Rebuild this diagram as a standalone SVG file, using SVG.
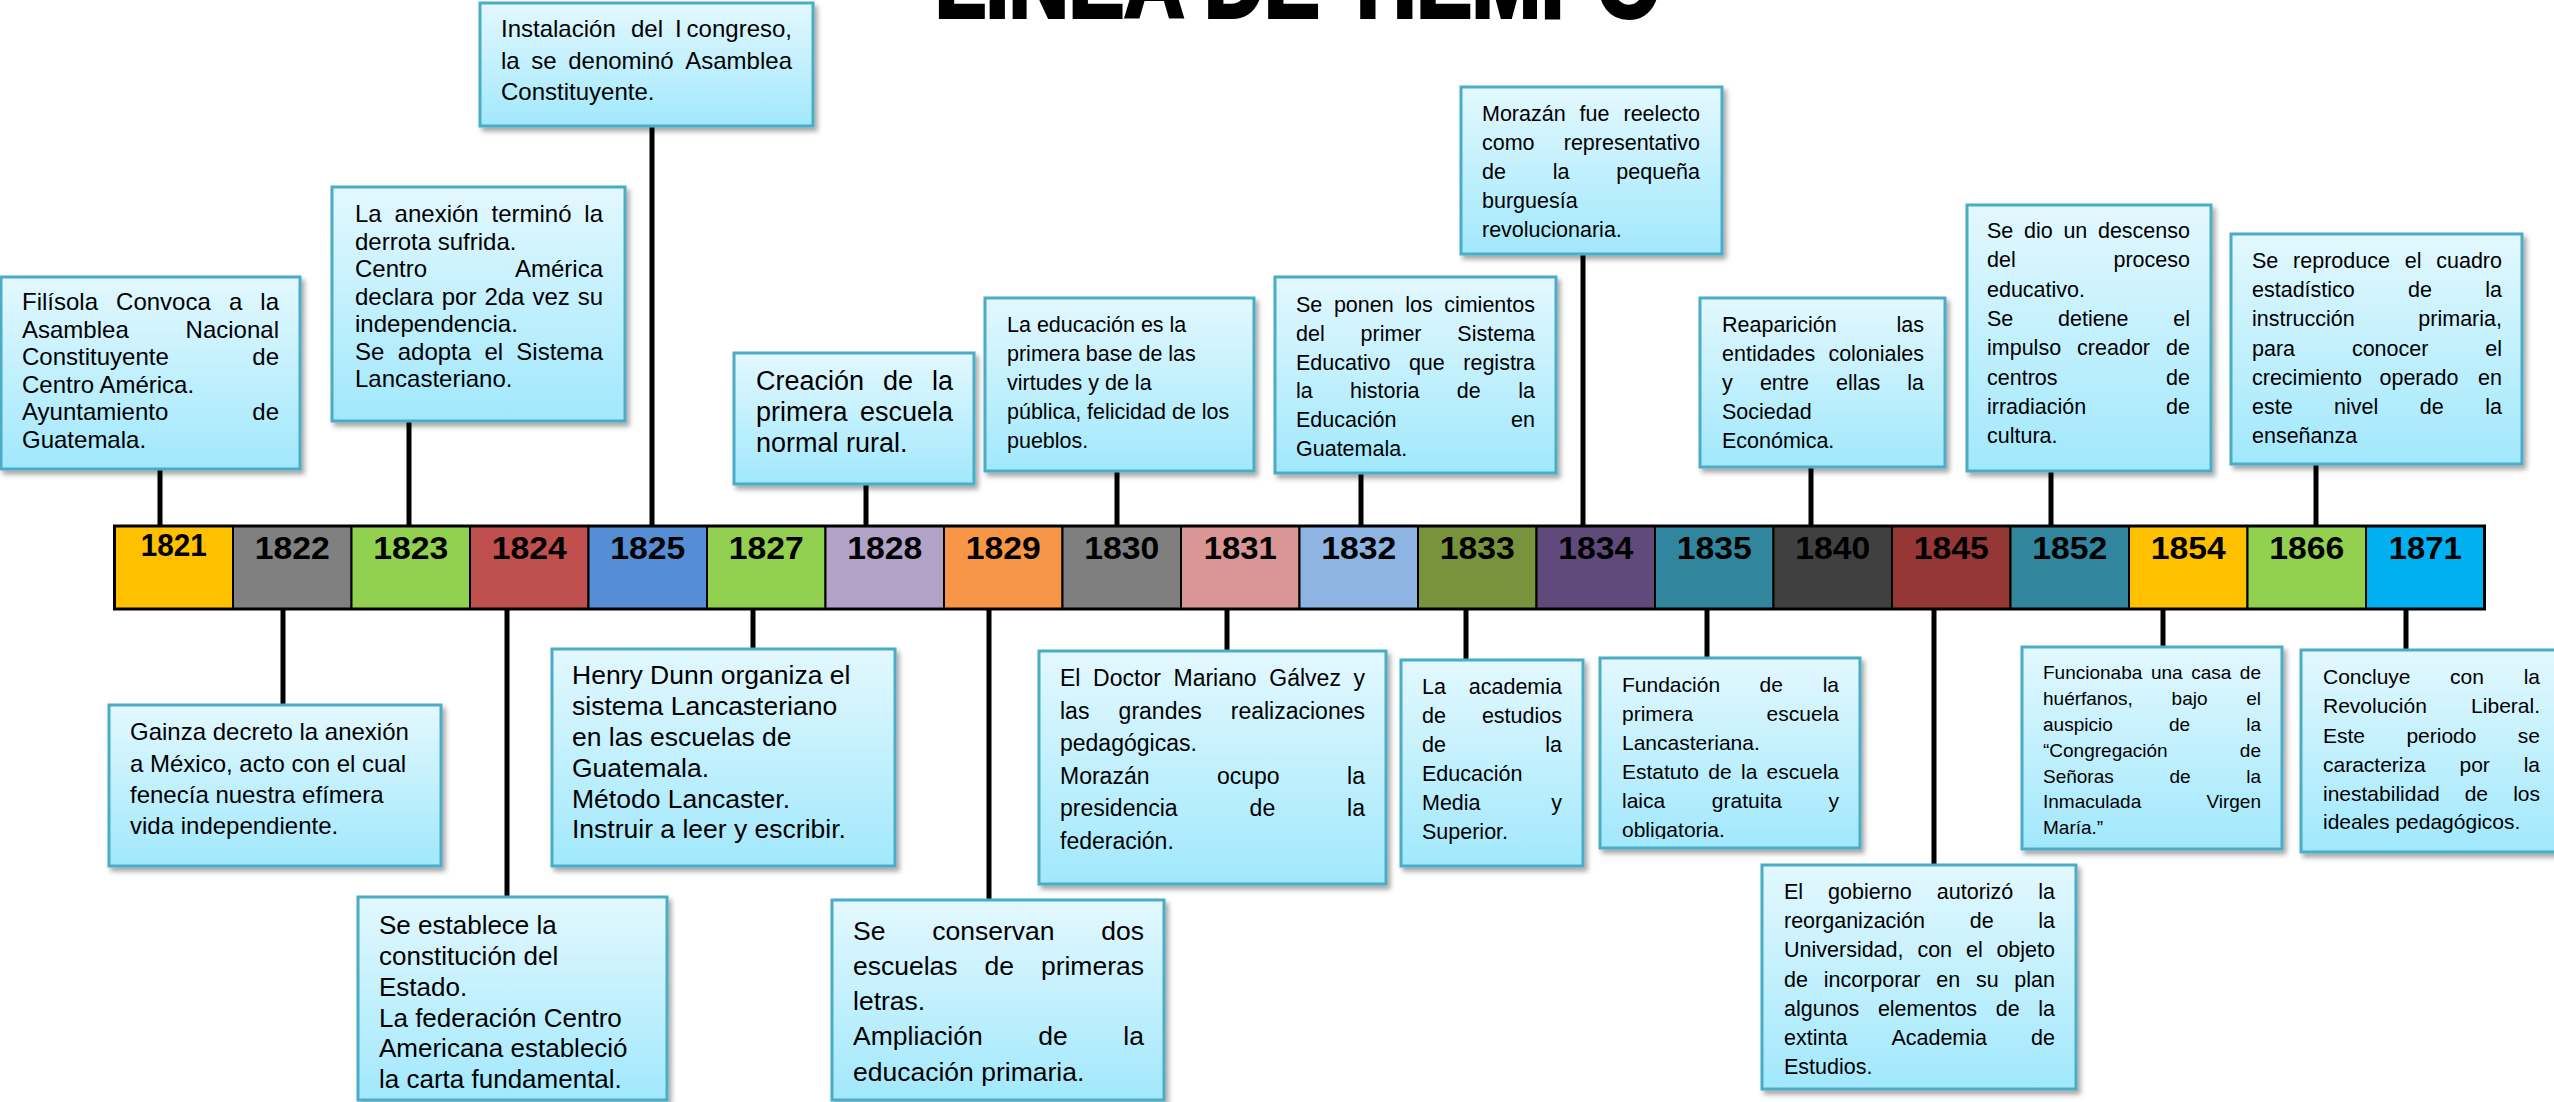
<svg xmlns="http://www.w3.org/2000/svg" width="2554" height="1102" viewBox="0 0 2554 1102">
<defs>
<linearGradient id="bg" x1="0" y1="0" x2="0" y2="1">
<stop offset="0" stop-color="#E3F8FE"/>
<stop offset="1" stop-color="#A1E8FC"/>
</linearGradient>
<filter id="sh" x="-10%" y="-10%" width="125%" height="125%">
<feDropShadow dx="3" dy="4" stdDeviation="2.5" flood-color="#000" flood-opacity="0.35"/>
</filter>
<clipPath id="c1835"><rect x="1600" y="658" width="260" height="181"/></clipPath>
<style>
text { font-family: "Liberation Sans", Arial, sans-serif; fill: #000; }
.e { text-anchor: end; }
.box { fill: url(#bg); stroke: #4BACC6; stroke-width: 3; filter: url(#sh); }
.cell { stroke: #000; stroke-width: 2; }
.yr { font-weight: bold; font-size: 31px; text-anchor: middle; }
.con line { stroke: #000; stroke-width: 5; }
.title { font-weight: bold; font-size: 100px; stroke: #000; stroke-width: 4; }
</style>
</defs>
<rect width="2554" height="1102" fill="#fff"/>

<text class="title" x="935" y="17" textLength="726" lengthAdjust="spacingAndGlyphs">LINEA DE TIEMPO</text>

<g id="connectors" class="con">
<line x1="160" y1="469" x2="160" y2="527"/>
<line x1="409" y1="421" x2="409" y2="527"/>
<line x1="652" y1="126" x2="652" y2="527"/>
<line x1="866" y1="484" x2="866" y2="527"/>
<line x1="1117" y1="471" x2="1117" y2="527"/>
<line x1="1361" y1="473" x2="1361" y2="527"/>
<line x1="1583" y1="254" x2="1583" y2="527"/>
<line x1="1811" y1="467" x2="1811" y2="527"/>
<line x1="2051" y1="471" x2="2051" y2="527"/>
<line x1="2316" y1="464" x2="2316" y2="527"/>
<line x1="283" y1="608" x2="283" y2="705"/>
<line x1="507" y1="608" x2="507" y2="897"/>
<line x1="753" y1="608" x2="753" y2="649"/>
<line x1="989" y1="608" x2="989" y2="900"/>
<line x1="1227" y1="608" x2="1227" y2="651"/>
<line x1="1466" y1="608" x2="1466" y2="660"/>
<line x1="1707" y1="608" x2="1707" y2="658"/>
<line x1="1934" y1="608" x2="1934" y2="865"/>
<line x1="2163" y1="608" x2="2163" y2="648"/>
<line x1="2406" y1="608" x2="2406" y2="650"/>
</g>

<g id="timeline">
<rect class="cell" x="114.5" y="526" width="118.5" height="83" fill="#FFC000"/>
<rect class="cell" x="233" y="526" width="118.5" height="83" fill="#808080"/>
<rect class="cell" x="351.5" y="526" width="118.5" height="83" fill="#92D050"/>
<rect class="cell" x="470" y="526" width="118.5" height="83" fill="#C0504D"/>
<rect class="cell" x="588.5" y="526" width="118.5" height="83" fill="#558ED5"/>
<rect class="cell" x="707" y="526" width="118.5" height="83" fill="#92D050"/>
<rect class="cell" x="825.5" y="526" width="118.5" height="83" fill="#B2A2C7"/>
<rect class="cell" x="944" y="526" width="118.5" height="83" fill="#F79646"/>
<rect class="cell" x="1062.5" y="526" width="118.5" height="83" fill="#7F7F7F"/>
<rect class="cell" x="1181" y="526" width="118.5" height="83" fill="#D99694"/>
<rect class="cell" x="1299.5" y="526" width="118.5" height="83" fill="#8EB4E3"/>
<rect class="cell" x="1418" y="526" width="118.5" height="83" fill="#77933C"/>
<rect class="cell" x="1536.5" y="526" width="118.5" height="83" fill="#604A7B"/>
<rect class="cell" x="1655" y="526" width="118.5" height="83" fill="#31859C"/>
<rect class="cell" x="1773.5" y="526" width="118.5" height="83" fill="#404040"/>
<rect class="cell" x="1892" y="526" width="118.5" height="83" fill="#953735"/>
<rect class="cell" x="2010.5" y="526" width="118.5" height="83" fill="#31859C"/>
<rect class="cell" x="2129" y="526" width="118.5" height="83" fill="#FFC000"/>
<rect class="cell" x="2247.5" y="526" width="118.5" height="83" fill="#92D050"/>
<rect class="cell" x="2366" y="526" width="118.5" height="83" fill="#00B0F0"/>
<rect x="114.5" y="526" width="2370" height="83" fill="none" stroke="#000" stroke-width="3"/>
<text class="yr" x="173.75" y="556" font-size="29" textLength="66" lengthAdjust="spacingAndGlyphs">1821</text>
<text class="yr" x="292.25" y="559" textLength="75" lengthAdjust="spacingAndGlyphs">1822</text>
<text class="yr" x="410.75" y="559" textLength="75" lengthAdjust="spacingAndGlyphs">1823</text>
<text class="yr" x="529.25" y="559" textLength="75" lengthAdjust="spacingAndGlyphs">1824</text>
<text class="yr" x="647.75" y="559" textLength="75" lengthAdjust="spacingAndGlyphs">1825</text>
<text class="yr" x="766.25" y="559" textLength="75" lengthAdjust="spacingAndGlyphs">1827</text>
<text class="yr" x="884.75" y="559" textLength="75" lengthAdjust="spacingAndGlyphs">1828</text>
<text class="yr" x="1003.25" y="559" textLength="75" lengthAdjust="spacingAndGlyphs">1829</text>
<text class="yr" x="1121.75" y="559" textLength="75" lengthAdjust="spacingAndGlyphs">1830</text>
<text class="yr" x="1240.25" y="559" textLength="73" lengthAdjust="spacingAndGlyphs">1831</text>
<text class="yr" x="1358.75" y="559" textLength="75" lengthAdjust="spacingAndGlyphs">1832</text>
<text class="yr" x="1477.25" y="559" textLength="75" lengthAdjust="spacingAndGlyphs">1833</text>
<text class="yr" x="1595.75" y="559" textLength="75" lengthAdjust="spacingAndGlyphs">1834</text>
<text class="yr" x="1714.25" y="559" textLength="75" lengthAdjust="spacingAndGlyphs">1835</text>
<text class="yr" x="1832.75" y="559" textLength="75" lengthAdjust="spacingAndGlyphs">1840</text>
<text class="yr" x="1951.25" y="559" textLength="75" lengthAdjust="spacingAndGlyphs">1845</text>
<text class="yr" x="2069.75" y="559" textLength="75" lengthAdjust="spacingAndGlyphs">1852</text>
<text class="yr" x="2188.25" y="559" textLength="75" lengthAdjust="spacingAndGlyphs">1854</text>
<text class="yr" x="2306.75" y="559" textLength="75" lengthAdjust="spacingAndGlyphs">1866</text>
<text class="yr" x="2425.25" y="559" textLength="73" lengthAdjust="spacingAndGlyphs">1871</text>
</g>

<g id="n1821" font-size="24">
<rect class="box" x="1" y="277" width="299" height="192"/>
<text y="310"><tspan x="22">Filísola</tspan><tspan x="116.1">Convoca</tspan><tspan x="228.9">a</tspan></text><text class="e" x="279" y="310">la</text>
<text x="22" y="337.6">Asamblea</text><text class="e" x="279" y="337.6">Nacional</text>
<text x="22" y="365.2">Constituyente</text><text class="e" x="279" y="365.2">de</text>
<text x="22" y="392.8">Centro América.</text>
<text x="22" y="420.4">Ayuntamiento</text><text class="e" x="279" y="420.4">de</text>
<text x="22" y="448">Guatemala.</text>
</g>

<g id="n1823" font-size="24">
<rect class="box" x="332" y="187" width="293" height="234"/>
<text y="222"><tspan x="355">La</tspan><tspan x="394.6">anexión</tspan><tspan x="491.5">terminó</tspan></text><text class="e" x="603" y="222">la</text>
<text x="355" y="249.5">derrota sufrida.</text>
<text x="355" y="277">Centro</text><text class="e" x="603" y="277">América</text>
<text y="304.5"><tspan x="355">declara</tspan><tspan x="441.7">por</tspan><tspan x="484.4">2da</tspan><tspan x="532.4">vez</tspan></text><text class="e" x="603" y="304.5">su</text>
<text x="355" y="332">independencia.</text>
<text y="359.5"><tspan x="355">Se</tspan><tspan x="397.7">adopta</tspan><tspan x="484.4">el</tspan></text><text class="e" x="603" y="359.5">Sistema</text>
<text x="355" y="387">Lancasteriano.</text>
</g>

<g id="n1825" font-size="24">
<rect class="box" x="480" y="3" width="333" height="123"/>
<text y="37"><tspan x="501">Instalación</tspan><tspan x="631">del</tspan><tspan x="675">I</tspan></text><text class="e" x="792" y="37">congreso,</text>
<text y="68.5"><tspan x="501">la</tspan><tspan x="531.3">se</tspan><tspan x="568.2">denominó</tspan></text><text class="e" x="792" y="68.5">Asamblea</text>
<text x="501" y="100">Constituyente.</text>
</g>

<g id="n1828" font-size="27">
<rect class="box" x="734" y="353" width="240" height="131"/>
<text y="390"><tspan x="756">Creación</tspan><tspan x="883">de</tspan></text><text class="e" x="953" y="390">la</text>
<text x="756" y="421">primera</text><text class="e" x="953" y="421">escuela</text>
<text x="756" y="452">normal rural.</text>
</g>

<g id="n1830" font-size="21.5">
<rect class="box" x="985" y="298" width="269" height="173"/>
<text x="1007" y="332">La educación es la</text>
<text x="1007" y="361">primera base de las</text>
<text x="1007" y="390">virtudes y de la</text>
<text x="1007" y="419">pública, felicidad de los</text>
<text x="1007" y="448">pueblos.</text>
</g>

<g id="n1832" font-size="21.5">
<rect class="box" x="1275" y="277" width="281" height="196"/>
<text y="312"><tspan x="1296">Se</tspan><tspan x="1333.9">ponen</tspan><tspan x="1405.3">los</tspan></text><text class="e" x="1535" y="312">cimientos</text>
<text y="341"><tspan x="1296">del</tspan><tspan x="1360.6">primer</tspan></text><text class="e" x="1535" y="341">Sistema</text>
<text y="369.5"><tspan x="1296">Educativo</tspan><tspan x="1408.9">que</tspan></text><text class="e" x="1535" y="369.5">registra</text>
<text y="398"><tspan x="1296">la</tspan><tspan x="1350.1">historia</tspan><tspan x="1456.8">de</tspan></text><text class="e" x="1535" y="398">la</text>
<text x="1296" y="427">Educación</text><text class="e" x="1535" y="427">en</text>
<text x="1296" y="456">Guatemala.</text>
</g>

<g id="n1834" font-size="21.5">
<rect class="box" x="1461" y="87" width="261" height="167"/>
<text y="121"><tspan x="1482">Morazán</tspan><tspan x="1579.6">fue</tspan></text><text class="e" x="1700" y="121">reelecto</text>
<text x="1482" y="150">como</text><text class="e" x="1700" y="150">representativo</text>
<text y="179"><tspan x="1482">de</tspan><tspan x="1552.7">la</tspan></text><text class="e" x="1700" y="179">pequeña</text>
<text x="1482" y="208">burguesía</text>
<text x="1482" y="237">revolucionaria.</text>
</g>

<g id="n1840" font-size="21.5">
<rect class="box" x="1700" y="298" width="245" height="169"/>
<text x="1722" y="332">Reaparición</text><text class="e" x="1924" y="332">las</text>
<text x="1722" y="361">entidades</text><text class="e" x="1924" y="361">coloniales</text>
<text y="390"><tspan x="1722">y</tspan><tspan x="1759.9">entre</tspan><tspan x="1836">ellas</tspan></text><text class="e" x="1924" y="390">la</text>
<text x="1722" y="419">Sociedad</text>
<text x="1722" y="448">Económica.</text>
</g>

<g id="n1852" font-size="21.5">
<rect class="box" x="1967" y="205" width="244" height="266"/>
<text y="238"><tspan x="1987">Se</tspan><tspan x="2024">dio</tspan><tspan x="2063.4">un</tspan></text><text class="e" x="2190" y="238">descenso</text>
<text x="1987" y="267.3">del</text><text class="e" x="2190" y="267.3">proceso</text>
<text x="1987" y="296.6">educativo.</text>
<text y="326"><tspan x="1987">Se</tspan><tspan x="2058">detiene</tspan></text><text class="e" x="2190" y="326">el</text>
<text y="355.3"><tspan x="1987">impulso</tspan><tspan x="2077.1">creador</tspan></text><text class="e" x="2190" y="355.3">de</text>
<text x="1987" y="384.6">centros</text><text class="e" x="2190" y="384.6">de</text>
<text x="1987" y="414">irradiación</text><text class="e" x="2190" y="414">de</text>
<text x="1987" y="443">cultura.</text>
</g>

<g id="n1866" font-size="21.5">
<rect class="box" x="2231" y="234" width="291" height="230"/>
<text y="268"><tspan x="2252">Se</tspan><tspan x="2293.1">reproduce</tspan><tspan x="2404.7">el</tspan></text><text class="e" x="2502" y="268">cuadro</text>
<text y="297"><tspan x="2252">estadístico</tspan><tspan x="2408.1">de</tspan></text><text class="e" x="2502" y="297">la</text>
<text x="2252" y="326">instrucción</text><text class="e" x="2502" y="326">primaria,</text>
<text y="355.5"><tspan x="2252">para</tspan><tspan x="2351.9">conocer</tspan></text><text class="e" x="2502" y="355.5">el</text>
<text y="385"><tspan x="2252">crecimiento</tspan><tspan x="2379.5">operado</tspan></text><text class="e" x="2502" y="385">en</text>
<text y="414"><tspan x="2252">este</tspan><tspan x="2334.1">nivel</tspan><tspan x="2419.8">de</tspan></text><text class="e" x="2502" y="414">la</text>
<text x="2252" y="443">enseñanza</text>
</g>

<g id="n1822" font-size="24">
<rect class="box" x="109" y="705" width="332" height="161"/>
<text x="130" y="740">Gainza decreto la anexión</text>
<text x="130" y="771.5">a México, acto con el cual</text>
<text x="130" y="803">fenecía nuestra efímera</text>
<text x="130" y="834">vida independiente.</text>
</g>

<g id="n1824" font-size="26">
<rect class="box" x="358" y="897" width="309" height="203"/>
<text x="379" y="934">Se establece la</text>
<text x="379" y="965">constitución del</text>
<text x="379" y="996">Estado.</text>
<text x="379" y="1027">La federación Centro</text>
<text x="379" y="1057">Americana estableció</text>
<text x="379" y="1088">la carta fundamental.</text>
</g>

<g id="n1827" font-size="26.5">
<rect class="box" x="552" y="649" width="343" height="217"/>
<text x="572" y="684">Henry Dunn organiza el</text>
<text x="572" y="715">sistema Lancasteriano</text>
<text x="572" y="746">en las escuelas de</text>
<text x="572" y="777">Guatemala.</text>
<text x="572" y="808">Método Lancaster.</text>
<text x="572" y="838">Instruir a leer y escribir.</text>
</g>

<g id="n1829" font-size="26.5">
<rect class="box" x="832" y="900" width="332" height="200"/>
<text y="940"><tspan x="853">Se</tspan><tspan x="932.2">conservan</tspan></text><text class="e" x="1144" y="940">dos</text>
<text y="975"><tspan x="853">escuelas</tspan><tspan x="984.6">de</tspan></text><text class="e" x="1144" y="975">primeras</text>
<text x="853" y="1010">letras.</text>
<text y="1045"><tspan x="853">Ampliación</tspan><tspan x="1038.3">de</tspan></text><text class="e" x="1144" y="1045">la</text>
<text x="853" y="1081">educación primaria.</text>
</g>

<g id="n1831" font-size="23">
<rect class="box" x="1039" y="651" width="347" height="233"/>
<text y="686"><tspan x="1060">El</tspan><tspan x="1093.1">Doctor</tspan><tspan x="1173.5">Mariano</tspan><tspan x="1269.3">Gálvez</tspan></text><text class="e" x="1365" y="686">y</text>
<text y="718.6"><tspan x="1060">las</tspan><tspan x="1118.6">grandes</tspan></text><text class="e" x="1365" y="718.6">realizaciones</text>
<text x="1060" y="751.2">pedagógicas.</text>
<text y="783.8"><tspan x="1060">Morazán</tspan><tspan x="1217">ocupo</tspan></text><text class="e" x="1365" y="783.8">la</text>
<text y="816.4"><tspan x="1060">presidencia</tspan><tspan x="1249.6">de</tspan></text><text class="e" x="1365" y="816.4">la</text>
<text x="1060" y="849">federación.</text>
</g>

<g id="n1833" font-size="21.5">
<rect class="box" x="1401" y="660" width="182" height="206"/>
<text x="1422" y="694">La</text><text class="e" x="1562" y="694">academia</text>
<text x="1422" y="723">de</text><text class="e" x="1562" y="723">estudios</text>
<text x="1422" y="752">de</text><text class="e" x="1562" y="752">la</text>
<text x="1422" y="781">Educación</text>
<text x="1422" y="810">Media</text><text class="e" x="1562" y="810">y</text>
<text x="1422" y="839">Superior.</text>
</g>

<g id="n1835" font-size="21">
<rect class="box" x="1600" y="658" width="260" height="190"/>
<g clip-path="url(#c1835)">
<text y="692"><tspan x="1622">Fundación</tspan><tspan x="1759.6">de</tspan></text><text class="e" x="1839" y="692">la</text>
<text x="1622" y="721">primera</text><text class="e" x="1839" y="721">escuela</text>
<text x="1622" y="750">Lancasteriana.</text>
<text y="779"><tspan x="1622">Estatuto</tspan><tspan x="1708.3">de</tspan><tspan x="1741">la</tspan></text><text class="e" x="1839" y="779">escuela</text>
<text y="808"><tspan x="1622">laica</tspan><tspan x="1711.8">gratuita</tspan></text><text class="e" x="1839" y="808">y</text>
<text x="1622" y="837">obligatoria.</text>
</g>
</g>

<g id="n1845" font-size="21.5">
<rect class="box" x="1762" y="865" width="314" height="224"/>
<text y="899"><tspan x="1784">El</tspan><tspan x="1828.1">gobierno</tspan><tspan x="1936.8">autorizó</tspan></text><text class="e" x="2055" y="899">la</text>
<text y="928"><tspan x="1784">reorganización</tspan><tspan x="1969.7">de</tspan></text><text class="e" x="2055" y="928">la</text>
<text y="957"><tspan x="1784">Universidad,</tspan><tspan x="1917.4">con</tspan><tspan x="1966">el</tspan></text><text class="e" x="2055" y="957">objeto</text>
<text y="987"><tspan x="1784">de</tspan><tspan x="1823.7">incorporar</tspan><tspan x="1936.3">en</tspan><tspan x="1976">su</tspan></text><text class="e" x="2055" y="987">plan</text>
<text y="1016"><tspan x="1784">algunos</tspan><tspan x="1877.9">elementos</tspan><tspan x="1995.7">de</tspan></text><text class="e" x="2055" y="1016">la</text>
<text y="1045"><tspan x="1784">extinta</tspan><tspan x="1891.4">Academia</tspan></text><text class="e" x="2055" y="1045">de</text>
<text x="1784" y="1074">Estudios.</text>
</g>

<g id="n1854" font-size="19">
<rect class="box" x="2022" y="647" width="260" height="202"/>
<text y="679"><tspan x="2043">Funcionaba</tspan><tspan x="2150.9">una</tspan><tspan x="2191.2">casa</tspan></text><text class="e" x="2261" y="679">de</text>
<text y="705"><tspan x="2043">huérfanos,</tspan><tspan x="2171.6">bajo</tspan></text><text class="e" x="2261" y="705">el</text>
<text y="731"><tspan x="2043">auspicio</tspan><tspan x="2168.9">de</tspan></text><text class="e" x="2261" y="731">la</text>
<text x="2043" y="757">“Congregación</text><text class="e" x="2261" y="757">de</text>
<text y="783"><tspan x="2043">Señoras</tspan><tspan x="2169.5">de</tspan></text><text class="e" x="2261" y="783">la</text>
<text x="2043" y="808">Inmaculada</text><text class="e" x="2261" y="808">Virgen</text>
<text x="2043" y="834">María.”</text>
</g>

<g id="n1871" font-size="21">
<rect class="box" x="2301" y="650" width="270" height="202"/>
<text y="684"><tspan x="2323">Concluye</tspan><tspan x="2450.1">con</tspan></text><text class="e" x="2540" y="684">la</text>
<text x="2323" y="713">Revolución</text><text class="e" x="2540" y="713">Liberal.</text>
<text y="743"><tspan x="2323">Este</tspan><tspan x="2406.4">periodo</tspan></text><text class="e" x="2540" y="743">se</text>
<text y="772"><tspan x="2323">caracteriza</tspan><tspan x="2459.5">por</tspan></text><text class="e" x="2540" y="772">la</text>
<text y="801"><tspan x="2323">inestabilidad</tspan><tspan x="2464.7">de</tspan></text><text class="e" x="2540" y="801">los</text>
<text x="2323" y="829">ideales pedagógicos.</text>
</g>
</svg>
